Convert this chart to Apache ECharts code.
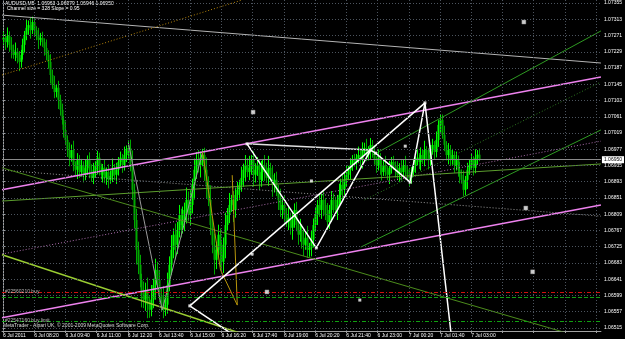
<!DOCTYPE html>
<html><head><meta charset="utf-8">
<script src="https://cdn.jsdelivr.net/npm/echarts@6/dist/echarts.min.js"></script>
<style>html,body{margin:0;padding:0;background:#000;}#c{width:625px;height:339px;}</style>
</head><body><div id="c"></div><script>
const symbolInfo = 'AUDUSD,M5  1.06963 1.06979 1.06946 1.06950';
const channelInfo = 'Channel size = 328 Slope = 0.95';
const copyright = 'MetaTrader - Alpari UK, \u00a9 2001-2009 MetaQuotes Software Corp.';
const timeLabels = ['6 Jul 2011','6 Jul 08:20','6 Jul 09:40','6 Jul 11:00','6 Jul 12:20','6 Jul 13:40','6 Jul 15:00','6 Jul 16:20','6 Jul 17:40','6 Jul 19:00','6 Jul 20:20','6 Jul 21:40','6 Jul 23:00','7 Jul 00:20','7 Jul 01:40','7 Jul 03:00'];
const priceTicks = [1.06515,1.06557,1.06599,1.06641,1.06683,1.06725,1.06767,1.06809,1.06851,1.06893,1.06935,1.06977,1.07019,1.07061,1.07103,1.07145,1.07187,1.07229,1.07271,1.07313,1.07355];
const slotCount = 307;

const opens = [
1.07260,1.07265,1.07254,1.07270,1.07247,1.07234,1.07221,1.07229,1.07213,1.07203,
1.07221,1.07247,1.07273,1.07291,1.07298,1.07285,1.07306,1.07285,1.07273,1.07260,
1.07265,1.07254,1.07239,1.07221,1.07203,1.07169,1.07143,1.07125,1.07136,1.07105,
1.07079,1.07053,1.07027,1.07001,1.06975,1.06955,1.06975,1.06936,1.06924,1.06949,
1.06918,1.06936,1.06911,1.06929,1.06949,1.06924,1.06903,1.06918,1.06936,1.06955,
1.06924,1.06911,1.06929,1.06903,1.06918,1.06898,1.06908,1.06929,1.06911,1.06924,
1.06944,1.06955,1.06936,1.06962,1.06975,1.06980,1.06936,1.06872,1.06794,1.06717,
1.06678,1.06639,1.06600,1.06588,1.06613,1.06575,1.06562,1.06588,1.06626,1.06665,
1.06639,1.06600,1.06588,1.06562,1.06575,1.06626,1.06678,1.06717,1.06756,1.06730,
1.06768,1.06807,1.06781,1.06794,1.06820,1.06846,1.06807,1.06833,1.06885,1.06924,
1.06949,1.06936,1.06955,1.06962,1.06924,1.06885,1.06846,1.06781,1.06730,1.06691,
1.06717,1.06756,1.06704,1.06686,1.06730,1.06781,1.06807,1.06833,1.06846,1.06820,
1.06859,1.06872,1.06885,1.06903,1.06924,1.06936,1.06918,1.06929,1.06949,1.06911,
1.06924,1.06936,1.06898,1.06918,1.06936,1.06924,1.06903,1.06929,1.06911,1.06885,
1.06898,1.06872,1.06846,1.06820,1.06833,1.06807,1.06789,1.06800,1.06774,1.06794,
1.06820,1.06781,1.06756,1.06768,1.06743,1.06730,1.06748,1.06717,1.06722,1.06743,
1.06781,1.06807,1.06833,1.06820,1.06846,1.06833,1.06807,1.06789,1.06820,1.06846,
1.06833,1.06820,1.06846,1.06859,1.06885,1.06872,1.06898,1.06911,1.06924,1.06936,
1.06949,1.06944,1.06955,1.06962,1.06949,1.06975,1.06980,1.06962,1.06975,1.06988,
1.06970,1.06949,1.06936,1.06955,1.06929,1.06918,1.06936,1.06924,1.06911,1.06929,
1.06944,1.06936,1.06924,1.06911,1.06929,1.06918,1.06936,1.06924,1.06911,1.06903,
1.06918,1.06936,1.06949,1.06955,1.06944,1.06962,1.06949,1.06975,1.06962,1.06949,
1.06975,1.06988,1.06970,1.07001,1.07040,1.07053,1.07014,1.06988,1.06962,1.06975,
1.06949,1.06962,1.06936,1.06949,1.06924,1.06911,1.06898,1.06872,1.06898,1.06924,
1.06936,1.06949,1.06929,1.06955,1.06963];
const closes = [
1.07265,1.07254,1.07270,1.07247,1.07234,1.07221,1.07229,1.07213,1.07203,1.07221,
1.07247,1.07273,1.07291,1.07298,1.07285,1.07306,1.07285,1.07273,1.07260,1.07265,
1.07254,1.07239,1.07221,1.07203,1.07169,1.07143,1.07125,1.07136,1.07105,1.07079,
1.07053,1.07027,1.07001,1.06975,1.06955,1.06975,1.06936,1.06924,1.06949,1.06918,
1.06936,1.06911,1.06929,1.06949,1.06924,1.06903,1.06918,1.06936,1.06955,1.06924,
1.06911,1.06929,1.06903,1.06918,1.06898,1.06908,1.06929,1.06911,1.06924,1.06944,
1.06955,1.06936,1.06962,1.06975,1.06980,1.06936,1.06872,1.06794,1.06717,1.06678,
1.06639,1.06600,1.06588,1.06613,1.06575,1.06562,1.06588,1.06626,1.06665,1.06639,
1.06600,1.06588,1.06562,1.06575,1.06626,1.06678,1.06717,1.06756,1.06730,1.06768,
1.06807,1.06781,1.06794,1.06820,1.06846,1.06807,1.06833,1.06885,1.06924,1.06949,
1.06936,1.06955,1.06962,1.06924,1.06885,1.06846,1.06781,1.06730,1.06691,1.06717,
1.06756,1.06704,1.06686,1.06730,1.06781,1.06807,1.06833,1.06846,1.06820,1.06859,
1.06872,1.06885,1.06903,1.06924,1.06936,1.06918,1.06929,1.06949,1.06911,1.06924,
1.06936,1.06898,1.06918,1.06936,1.06924,1.06903,1.06929,1.06911,1.06885,1.06898,
1.06872,1.06846,1.06820,1.06833,1.06807,1.06789,1.06800,1.06774,1.06794,1.06820,
1.06781,1.06756,1.06768,1.06743,1.06730,1.06748,1.06717,1.06722,1.06743,1.06781,
1.06807,1.06833,1.06820,1.06846,1.06833,1.06807,1.06789,1.06820,1.06846,1.06833,
1.06820,1.06846,1.06859,1.06885,1.06872,1.06898,1.06911,1.06924,1.06936,1.06949,
1.06944,1.06955,1.06962,1.06949,1.06975,1.06980,1.06962,1.06975,1.06988,1.06970,
1.06949,1.06936,1.06955,1.06929,1.06918,1.06936,1.06924,1.06911,1.06929,1.06944,
1.06936,1.06924,1.06911,1.06929,1.06918,1.06936,1.06924,1.06911,1.06903,1.06918,
1.06936,1.06949,1.06955,1.06944,1.06962,1.06949,1.06975,1.06962,1.06949,1.06975,
1.06988,1.06970,1.07001,1.07040,1.07053,1.07014,1.06988,1.06962,1.06975,1.06949,
1.06962,1.06936,1.06949,1.06924,1.06911,1.06898,1.06872,1.06898,1.06924,1.06936,
1.06949,1.06929,1.06955,1.06963,1.06950];
const highs = [
1.07281,1.07275,1.07292,1.07282,1.07267,1.07248,1.07253,1.07239,1.07231,1.07234,
1.07263,1.07283,1.07313,1.07310,1.07318,1.07320,1.07318,1.07295,1.07291,1.07278,
1.07281,1.07264,1.07261,1.07233,1.07223,1.07183,1.07167,1.07146,1.07154,1.07118,
1.07095,1.07063,1.07049,1.07013,1.06995,1.06989,1.06999,1.06946,1.06967,1.06962,
1.06952,1.06946,1.06951,1.06961,1.06969,1.06938,1.06942,1.06946,1.06973,1.06968,
1.06940,1.06939,1.06951,1.06930,1.06938,1.06922,1.06953,1.06939,1.06942,1.06957,
1.06971,1.06965,1.06984,1.06987,1.07000,1.07002,1.06974,1.06888,1.06823,1.06738,
1.06704,1.06655,1.06635,1.06632,1.06645,1.06597,1.06626,1.06642,1.06694,1.06686,
1.06665,1.06616,1.06623,1.06594,1.06658,1.06700,1.06755,1.06772,1.06785,1.06789,
1.06833,1.06823,1.06829,1.06839,1.06878,1.06868,1.06871,1.06901,1.06953,1.06970,
1.06975,1.06971,1.06978,1.06981,1.06956,1.06907,1.06884,1.06797,1.06759,1.06738,
1.06782,1.06772,1.06739,1.06749,1.06813,1.06825,1.06864,1.06859,1.06869,1.06876,
1.06893,1.06898,1.06932,1.06940,1.06962,1.06954,1.06960,1.06962,1.06972,1.06941,
1.06957,1.06949,1.06947,1.06952,1.06962,1.06942,1.06960,1.06942,1.06934,1.06915,
1.06919,1.06885,1.06875,1.06849,1.06859,1.06825,1.06831,1.06813,1.06817,1.06837,
1.06841,1.06794,1.06797,1.06784,1.06769,1.06766,1.06779,1.06735,1.06766,1.06798,
1.06828,1.06846,1.06862,1.06862,1.06872,1.06851,1.06838,1.06833,1.06869,1.06863,
1.06854,1.06859,1.06888,1.06901,1.06911,1.06916,1.06935,1.06934,1.06954,1.06962,
1.06965,1.06965,1.06984,1.06974,1.06995,1.06994,1.07004,1.06985,1.07006,1.07001,
1.06986,1.06959,1.06977,1.06967,1.06949,1.06950,1.06960,1.06934,1.06947,1.06957,
1.06960,1.06946,1.06946,1.06941,1.06949,1.06950,1.06960,1.06934,1.06929,1.06931,
1.06952,1.06959,1.06977,1.06967,1.06982,1.06976,1.06999,1.06985,1.06980,1.06988,
1.07004,1.06998,1.07023,1.07052,1.07068,1.07067,1.07038,1.06998,1.06993,1.06988,
1.06978,1.06972,1.06971,1.06961,1.06944,1.06925,1.06922,1.06908,1.06942,1.06949,
1.06965,1.06959,1.06977,1.06975,1.06979];
const lows = [
1.07248,1.07234,1.07240,1.07229,1.07212,1.07211,1.07205,1.07199,1.07179,1.07188,
1.07209,1.07227,1.07259,1.07273,1.07263,1.07275,1.07269,1.07259,1.07236,1.07245,
1.07242,1.07219,1.07207,1.07185,1.07147,1.07133,1.07109,1.07111,1.07081,1.07064,
1.07041,1.07007,1.06987,1.06957,1.06933,1.06945,1.06920,1.06910,1.06900,1.06903,
1.06906,1.06891,1.06897,1.06911,1.06902,1.06893,1.06887,1.06904,1.06912,1.06909,
1.06899,1.06891,1.06889,1.06885,1.06876,1.06888,1.06892,1.06897,1.06887,1.06909,
1.06932,1.06916,1.06922,1.06944,1.06953,1.06920,1.06846,1.06772,1.06679,1.06654,
1.06620,1.06568,1.06566,1.06559,1.06540,1.06541,1.06545,1.06566,1.06588,1.06615,
1.06581,1.06556,1.06540,1.06546,1.06552,1.06610,1.06652,1.06695,1.06692,1.06706,
1.06749,1.06749,1.06759,1.06765,1.06785,1.06791,1.06781,1.06811,1.06847,1.06900,
1.06917,1.06904,1.06933,1.06895,1.06850,1.06830,1.06755,1.06708,1.06653,1.06667,
1.06698,1.06672,1.06664,1.06657,1.06695,1.06768,1.06786,1.06815,1.06789,1.06800,
1.06843,1.06846,1.06867,1.06880,1.06895,1.06905,1.06897,1.06911,1.06880,1.06891,
1.06908,1.06872,1.06880,1.06895,1.06895,1.06890,1.06882,1.06893,1.06854,1.06865,
1.06856,1.06820,1.06802,1.06797,1.06778,1.06776,1.06768,1.06756,1.06743,1.06774,
1.06765,1.06730,1.06738,1.06720,1.06701,1.06717,1.06696,1.06699,1.06700,1.06723,
1.06765,1.06781,1.06802,1.06797,1.06804,1.06794,1.06768,1.06771,1.06789,1.06813,
1.06804,1.06794,1.06828,1.06836,1.06843,1.06859,1.06882,1.06897,1.06900,1.06921,
1.06932,1.06924,1.06941,1.06931,1.06927,1.06965,1.06946,1.06948,1.06951,1.06955,
1.06937,1.06916,1.06922,1.06911,1.06896,1.06908,1.06908,1.06897,1.06887,1.06914,
1.06924,1.06904,1.06897,1.06893,1.06896,1.06908,1.06908,1.06897,1.06879,1.06888,
1.06906,1.06916,1.06935,1.06926,1.06922,1.06939,1.06933,1.06948,1.06925,1.06934,
1.06963,1.06950,1.06956,1.06983,1.07018,1.07004,1.06972,1.06948,1.06938,1.06934,
1.06937,1.06916,1.06922,1.06906,1.06889,1.06888,1.06856,1.06858,1.06874,1.06911,
1.06924,1.06909,1.06915,1.06937,1.06946];

// drawn objects: [bar index, price]
const grayChannelTop = [[-0.5,1.07324],[306.5,1.07200]];
const grayChannelLow = [[-0.5,1.06923],[306.5,1.06804]];
const goldDotted = [[-0.5,1.07169],[122.6,1.07363]];
const violetChannelTop = [[-0.5,1.06872],[306.5,1.07164]];
const violetChannelLow = [[-0.5,1.06541],[306.5,1.06833]];
const violetChannelMid = [[-0.5,1.06706],[306.5,1.06998]];
const yellowGreenLine = [[-0.5,1.06704],[126.1,1.06494]];
const greenFalling = [[-0.5,1.06929],[306.5,1.06476]];
const greenFlat = [[-0.5,1.06843],[306.5,1.06939]];
const greenRising1 = [[189.5,1.06962],[306.5,1.07283]];
const greenRising2 = [[183.4,1.06724],[306.5,1.07027]];
const greenDotted = [[185.4,1.06846],[306.5,1.07151]];
const whiteLong = [[95.75,1.06572],[216.3,1.07097]];
const whiteShort = [[95.75,1.06572],[116.0,1.06504]];
const whiteZigzag = [[125.1,1.06991],[160.6,1.06722],[188.45,1.06975],[191.0,1.06967],[208.7,1.06892],[216.3,1.07097],[230.0,1.06486]];
const whiteFlat = [[125.1,1.06991],[188.45,1.06975]];
const grayZigzag = [[64.3,1.06993],[81.6,1.06561],[102.3,1.06970]];
const goldZigzag = [[102.3,1.06970],[111.5,1.06665],[120.1,1.06574],[117.5,1.06910]];
const whiteSquares = [[95.75,1.06572],[127.7,1.06706],[125.1,1.06991],[160.6,1.06722],[188.45,1.06975],[191.0,1.06967],[208.7,1.06892],[216.3,1.07097],[158.1,1.06895],[206.2,1.06985],[182.9,1.06587]];
const crossMarks = [[128.2,1.07073],[267.0,1.07306],[268.0,1.06825],[271.5,1.06660],[135.3,1.06608]];
const bidPrice = 1.06950;
const orderBuy = 1.06608, orderBuyLabel = '#22560210 buy';
const orderTP = 1.06595;
const orderLimit = 1.06533, orderLimitLabel = '#22547160 buy limit';

const barTable = opens.map((o, i) => [i, o, closes[i], lows[i], highs[i]]);
const categories = Array.from({length: slotCount}, (_, i) => String(i));
const gridCols = [];
for (let i = 0; i < slotCount; i += 16) gridCols.push(i);

const FONT = 'Liberation Sans';
const UP_COLOR = '#00ff00', DOWN_COLOR = '#00a800';
function seg(data, color, width, type, z) {
  return {type:'line', xAxisIndex:1, yAxisIndex:0, data, symbol:'none', silent:true,
    lineStyle:{color, width, type}, z: z || 3, clip:true};
}
function renderBar(params, api) {
  const i = api.value(0), o = api.value(1), c = api.value(2), l = api.value(3), h = api.value(4);
  const pH = api.coord([i, h]), pL = api.coord([i, l]);
  const pO = api.coord([i, o]), pC = api.coord([i, c]);
  const color = c >= o ? UP_COLOR : DOWN_COLOR;
  const x = Math.round(pH[0]) + 0.5;
  const top = Math.min(pO[1], pC[1]);
  const hgt = Math.max(1, Math.abs(pO[1] - pC[1]));
  return {type:'group', children:[
    {type:'line', shape:{x1:x, y1:pH[1], x2:x, y2:pL[1]}, style:{stroke:color, lineWidth:1}},
    {type:'rect', shape:{x:x - 1, y:top, width:2, height:hgt}, style:{fill:color}}
  ]};
}

const chart = echarts.init(document.getElementById('c'));
chart.setOption({
  backgroundColor:'#000',
  animation:false,
  grid:{left:0, right:19, top:0, bottom:8},
  xAxis:[
    {type:'category', data:categories, boundaryGap:true,
     axisLine:{show:true, lineStyle:{color:'#a0a0a0'}},
     axisTick:{show:true, interval:15, length:2, alignWithLabel:true, lineStyle:{color:'#a0a0a0'}},
     axisLabel:{interval:15, color:'#fff', fontSize:5, fontFamily:FONT, align:'left', margin:2,
       formatter:(v, i) => timeLabels[i / 16] || ''},
     splitLine:{show:false}},
    {type:'value', min:-0.5, max:slotCount - 0.5, show:false}
  ],
  yAxis:[{type:'value', position:'right', min:1.06507, max:1.07363,
    axisLine:{show:true, lineStyle:{color:'#a0a0a0'}},
    axisTick:{show:true, customValues:priceTicks, length:2, lineStyle:{color:'#a0a0a0'}},
    axisLabel:{customValues:priceTicks, color:'#fff', fontSize:5, fontFamily:FONT, margin:3,
      formatter:v => v.toFixed(5)},
    splitLine:{show:false}}],
  graphic:[
    {type:'text', left:5, top:1, style:{text:symbolInfo, fill:'#fff', font:'5px "Liberation Sans"'}},
    {type:'text', left:7, top:6, style:{text:channelInfo, fill:'#fff', font:'5px "Liberation Sans"'}},
    {type:'text', left:3, top:323, style:{text:copyright, fill:'#ddd', font:'5px "Liberation Sans"'}}
  ],
  series:[
    {type:'line', xAxisIndex:1, data:[[0, 1.07]], symbol:'none', silent:true, z:0,
     lineStyle:{opacity:0},
     markLine:{silent:true, symbol:'none', animation:false, precision:5, label:{show:false},
       lineStyle:{color:'#4c545e', width:1, type:[1,2]},
       data:[...priceTicks.map(v => ({yAxis:v})), ...gridCols.map(v => ({xAxis:v}))]}},
    {type:'custom', xAxisIndex:0, yAxisIndex:0, data:barTable, renderItem:renderBar, silent:true, z:2,
     encode:{x:0, y:[1,2,3,4]}, clip:true},
    seg(grayChannelTop, '#b4b4b4', 1, 'solid'),
    seg(grayChannelLow, '#9a9a9a', 1, [1,2]),
    seg(goldDotted, '#b8860b', 1, [1,2]),
    seg(violetChannelTop, '#ee82ee', 1.5, 'solid'),
    seg(violetChannelLow, '#ee82ee', 1.5, 'solid'),
    seg(violetChannelMid, '#b070b0', 1, [1,2]),
    seg(yellowGreenLine, '#9acd32', 1.5, 'solid'),
    seg(greenFalling, '#4c8c1c', 1, 'solid'),
    seg(greenFlat, '#5c9e2e', 1, 'solid'),
    seg(greenRising1, '#2e9a22', 1, 'solid'),
    seg(greenRising2, '#2e9a22', 1, 'solid'),
    seg(greenDotted, '#2e7a22', 1, [1,2]),
    seg(grayZigzag, '#9a9a9a', 1, 'solid'),
    seg(goldZigzag, '#b8960b', 1, 'solid'),
    seg(whiteLong, '#ffffff', 1.5, 'solid', 4),
    seg(whiteShort, '#ffffff', 1.5, 'solid', 4),
    seg(whiteZigzag, '#ffffff', 1.5, 'solid', 4),
    seg(whiteFlat, '#e0e0e0', 1.5, 'solid', 4),
    {type:'line', xAxisIndex:1, data:[[0, bidPrice]], symbol:'none', silent:true, z:3, lineStyle:{opacity:0},
     markLine:{silent:true, symbol:'none', animation:false, precision:5,
       data:[
         {yAxis:bidPrice, lineStyle:{color:'#8a8a8a', width:1, type:'solid'},
          label:{show:true, position:'end', distance:1, formatter:bidPrice.toFixed(5), color:'#000',
            backgroundColor:'#fff', fontSize:5, fontFamily:FONT, padding:[1,2]}},
         {yAxis:orderBuy, lineStyle:{color:'#d01010', width:1, type:[4,2,1,2]}, label:{show:false}},
         {yAxis:orderTP, lineStyle:{color:'#10a010', width:1, type:[4,2]}, label:{show:false}},
         {yAxis:orderLimit, lineStyle:{color:'#10a010', width:1, type:[4,2,1,2]}, label:{show:false}}
       ]}},
    {type:'scatter', xAxisIndex:1, data:whiteSquares, symbol:'rect', symbolSize:3, silent:true, z:5,
     itemStyle:{color:'#fff'}},
    {type:'scatter', xAxisIndex:1, data:crossMarks, symbol:'rect', symbolSize:4, silent:true, z:5,
     itemStyle:{color:'#fff', borderColor:'#888', borderWidth:0.5}},
    {type:'scatter', xAxisIndex:1, data:[[1, orderBuy],[1, orderLimit]], symbolSize:0, silent:true, z:6,
     label:{show:true, position:'right', distance:0, color:'#ddd', fontSize:5, fontFamily:FONT,
       formatter:p => p.dataIndex === 0 ? orderBuyLabel : orderLimitLabel}}
  ]
});
</script></body></html>
